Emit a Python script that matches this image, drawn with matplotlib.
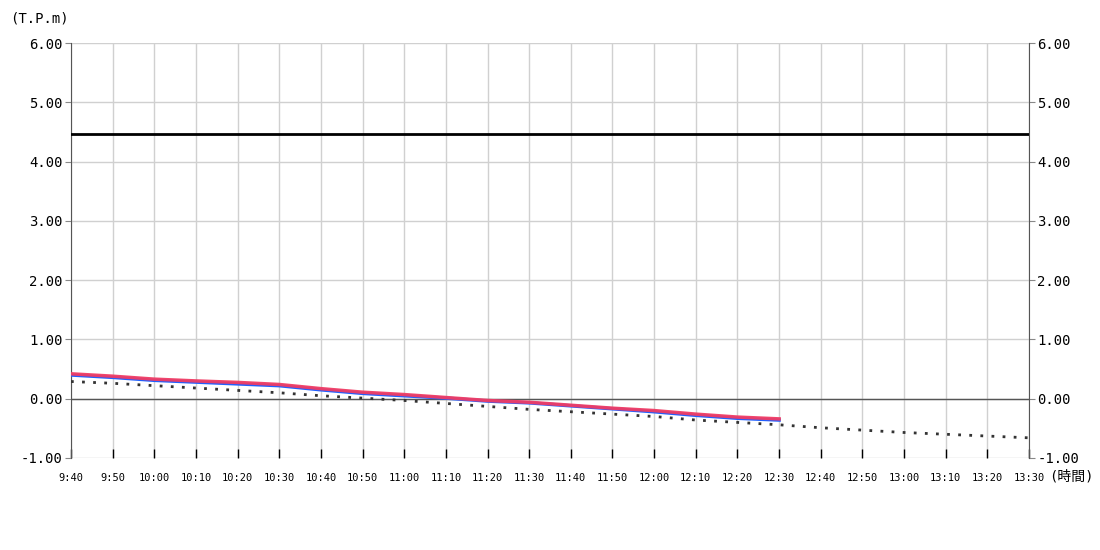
import numpy as np
import matplotlib
matplotlib.use("Agg")
import matplotlib.pyplot as plt

plt.rcParams['font.family'] = ['DejaVu Sans Mono', 'Noto Sans CJK JP']

times = ["9:40", "9:50", "10:00", "10:10", "10:20", "10:30", "10:40", "10:50",
         "11:00", "11:10", "11:20", "11:30", "11:40", "11:50", "12:00", "12:10",
         "12:20", "12:30", "12:40", "12:50", "13:00", "13:10", "13:20", "13:30"]

# observed (red / blue) until 12:30, forecast (dotted) to 13:30
red_vals = [0.42, 0.38, 0.33, 0.30, 0.275, 0.24, 0.17, 0.11, 0.07, 0.02, -0.03, -0.06,
            -0.11, -0.16, -0.20, -0.26, -0.31, -0.34]
blue_vals = [0.40, 0.36, 0.31, 0.28, 0.25, 0.22, 0.15, 0.09, 0.05, 0.01, -0.04, -0.07,
             -0.12, -0.17, -0.22, -0.28, -0.33, -0.36]
pred_vals = [0.29, 0.26, 0.22, 0.18, 0.14, 0.10, 0.05, 0.01, -0.03, -0.08, -0.13, -0.18,
             -0.22, -0.26, -0.30, -0.36, -0.40, -0.44, -0.49, -0.53, -0.57, -0.60,
             -0.63, -0.66]
limit_val = 4.47

yticks = [-1, 0, 1, 2, 3, 4, 5, 6]

fig = plt.figure(figsize=(11, 5.5), dpi=100)
ax = fig.add_axes([0.0645, 0.1673, 0.871, 0.7545])

x = np.arange(len(times))

ax.set_xlim(0, len(times) - 1)
ax.set_ylim(-1, 6)

# grid
for xi in x:
    ax.axvline(xi, color='#d0d0d0', lw=1, zorder=0)
for yv in yticks:
    ax.axhline(yv, color='#d0d0d0', lw=1, zorder=0)
ax.axhline(0, color='#555555', lw=1, zorder=1)

ax.axhline(limit_val, color='black', lw=2, zorder=3)
ax.plot(x[:len(blue_vals)], blue_vals, color='#2060ff', lw=2.5, zorder=4)
ax.plot(x[:len(red_vals)], red_vals, color='#f03c64', lw=2.5, alpha=0.95, zorder=5)
ax.plot(x, pred_vals, color='#333333', lw=2, linestyle=(0, (1, 3)), zorder=3)

for s in ['top', 'bottom']:
    ax.spines[s].set_visible(False)
ax.spines['left'].set_color('#555555')
ax.spines['right'].set_color('#555555')

ax.set_yticks(yticks)
ax.set_yticklabels(["%.2f" % v for v in yticks], fontsize=10)
ax.tick_params(axis='y', length=4, color='#888888', labelright=True, right=True, pad=2)

ax.set_xticks(x)
ax.set_xticklabels(times, fontsize=7.5)
ax.tick_params(axis='x', direction='in', length=6.5, width=1, color='black', pad=11)

fig.text(10 / 1100, 1 - 19 / 550, "(T.P.m)", fontsize=10, va='center', ha='left')
fig.text(1049 / 1100, 1 - 477 / 550, "(時間)", fontsize=10, va='center', ha='left')

fig.savefig("out.png", dpi=100)
